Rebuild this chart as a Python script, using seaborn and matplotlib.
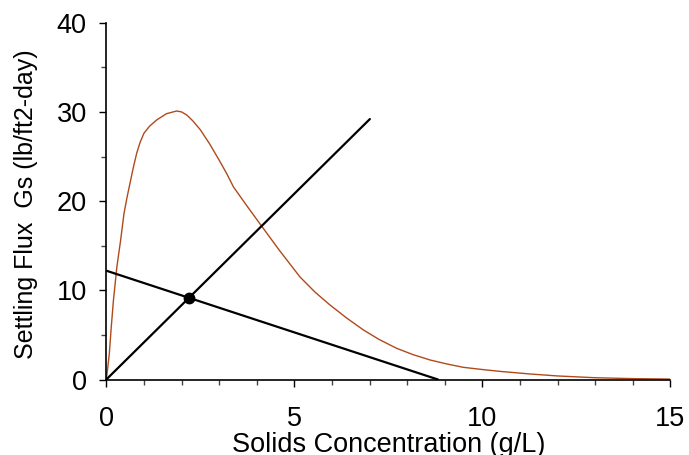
import matplotlib
matplotlib.use("Agg")
import matplotlib.pyplot as plt
from matplotlib.ticker import MultipleLocator
import seaborn as sns
import pandas as pd

# settling flux curve
conc = [0, 0.04, 0.08, 0.13, 0.19, 0.28, 0.38, 0.47, 0.55, 0.63, 0.72, 0.81, 0.9,
        1.0, 1.15, 1.34, 1.6, 1.87, 2.0, 2.14, 2.3, 2.5, 2.75, 3.0, 3.2, 3.38,
        3.75, 4.13, 4.6, 5.15, 5.55, 5.95, 6.39, 6.84, 7.25, 7.72, 8.15, 8.61,
        9.05, 9.49, 10.0, 10.5, 11.27, 12, 13, 14, 15]
flux = [0, 1.4, 2.9, 5.8, 8.9, 12.6, 15.6, 18.6, 20.4, 22.0, 23.8, 25.4, 26.6,
        27.6, 28.4, 29.1, 29.8, 30.1, 30.0, 29.65, 29.0, 28.0, 26.4, 24.6, 23.1,
        21.6, 19.4, 17.2, 14.5, 11.5, 9.8, 8.35, 6.9, 5.55, 4.5, 3.5, 2.8, 2.19,
        1.75, 1.37, 1.12, 0.9, 0.62, 0.4, 0.2, 0.1, 0.05]

# underflow line and operating line
under_x = [0, 7.01]
under_y = [0, 29.2]
oper_x = [0, 8.82]
oper_y = [12.2, 0]

# state point
pt_x = [2.21]
pt_y = [9.17]

sns.set_style("ticks")
plt.rcParams["font.family"] = ["Liberation Sans", "DejaVu Sans"]
plt.rcParams["font.size"] = 19.5
plt.rcParams["text.color"] = "black"
plt.rcParams["axes.labelcolor"] = "black"
plt.rcParams["xtick.color"] = "black"
plt.rcParams["ytick.color"] = "black"

df = pd.DataFrame({"conc": conc, "flux": flux})

fig = plt.figure(figsize=(6.89, 4.55), dpi=100)
ax = fig.add_axes([0.1543, 0.1659, 0.8186, 0.7842])

sns.lineplot(data=df, x="conc", y="flux", ax=ax, color="#B04A1A", lw=1.0, sort=False)
sns.lineplot(x=under_x, y=under_y, ax=ax, color="black", lw=1.6)
sns.lineplot(x=oper_x, y=oper_y, ax=ax, color="black", lw=1.6)
ax.plot(pt_x, pt_y, "o", color="black", ms=7.5, clip_on=False)

ax.set_xlim(0, 15)
ax.set_ylim(0, 40)
ax.xaxis.set_major_locator(MultipleLocator(5))
ax.xaxis.set_minor_locator(MultipleLocator(1))
ax.yaxis.set_major_locator(MultipleLocator(10))
ax.yaxis.set_minor_locator(MultipleLocator(5))
ax.tick_params(which="major", direction="out", length=5, width=1, color="black")
ax.tick_params(which="minor", direction="out", length=3.6, width=1, color="#444444")
ax.tick_params(axis="x", which="major", pad=14, labelsize=19.5, labelcolor="black")
ax.tick_params(axis="y", which="major", pad=9, labelsize=19.5, labelcolor="black")

sns.despine(ax=ax)
for s in ["left", "bottom"]:
    ax.spines[s].set_linewidth(1.2)
    ax.spines[s].set_color("black")

ax.set_xlabel("Solids Concentration (g/L)", fontsize=19.5, color="black")
ax.set_ylabel("Settling Flux  Gs (lb/ft2-day)", fontsize=18, color="black")
ax.xaxis.set_label_coords(0.5, -0.148)
ax.yaxis.set_label_coords(-0.121, 0.49)

fig.savefig("out.png", dpi=100)
